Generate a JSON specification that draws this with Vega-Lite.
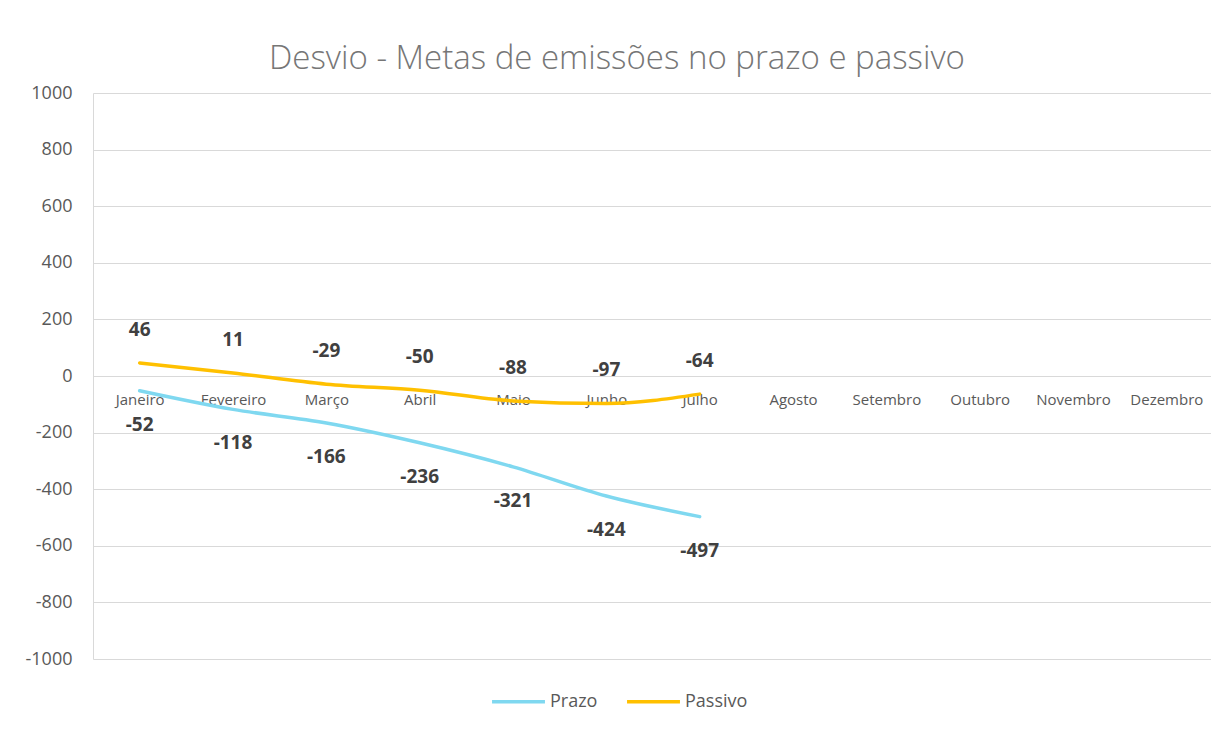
{
  "$schema": "https://vega.github.io/schema/vega-lite/v6.json",
  "autosize": "none",
  "width": 1120,
  "height": 566,
  "padding": {"left": 93, "top": 93, "right": 0, "bottom": 73},
  "background": "white",
  "title": {
    "text": "Desvio - Metas de emissões no prazo e passivo",
    "font": "Open Sans",
    "fontSize": 33,
    "fontWeight": 300,
    "color": "#767676",
    "anchor": "middle",
    "dx": -36,
    "offset": 8
  },
  "config": {
    "view": {"stroke": null},
    "font": "Open Sans"
  },
  "data": {
    "values": [
      {"mes": "Janeiro", "serie": "Prazo", "valor": -52},
      {"mes": "Fevereiro", "serie": "Prazo", "valor": -118},
      {"mes": "Março", "serie": "Prazo", "valor": -166},
      {"mes": "Abril", "serie": "Prazo", "valor": -236},
      {"mes": "Maio", "serie": "Prazo", "valor": -321},
      {"mes": "Junho", "serie": "Prazo", "valor": -424},
      {"mes": "Julho", "serie": "Prazo", "valor": -497},
      {"mes": "Janeiro", "serie": "Passivo", "valor": 46},
      {"mes": "Fevereiro", "serie": "Passivo", "valor": 11},
      {"mes": "Março", "serie": "Passivo", "valor": -29},
      {"mes": "Abril", "serie": "Passivo", "valor": -50},
      {"mes": "Maio", "serie": "Passivo", "valor": -88},
      {"mes": "Junho", "serie": "Passivo", "valor": -97},
      {"mes": "Julho", "serie": "Passivo", "valor": -64}
    ]
  },
  "encoding": {
    "x": {
      "field": "mes",
      "type": "nominal",
      "sort": null,
      "scale": {
        "domain": ["Janeiro", "Fevereiro", "Março", "Abril", "Maio", "Junho", "Julho", "Agosto", "Setembro", "Outubro", "Novembro", "Dezembro"],
        "paddingInner": 0,
        "paddingOuter": 0
      },
      "axis": {
        "title": null,
        "offset": -283,
        "domain": false,
        "ticks": false,
        "grid": false,
        "labelAngle": 0,
        "labelFontSize": 15,
        "labelColor": "#595959",
        "labelPadding": 16,
        "labelFont": "Open Sans"
      }
    },
    "y": {
      "field": "valor",
      "type": "quantitative",
      "scale": {"domain": [-1000, 1000], "nice": false, "zero": false},
      "axis": {
        "title": null,
        "values": [-1000, -800, -600, -400, -200, 0, 200, 400, 600, 800, 1000],
        "labelExpr": "datum.value + ''",
        "domain": true,
        "domainColor": "#d9d9d9",
        "ticks": false,
        "gridColor": "#d9d9d9",
        "labelFontSize": 18,
        "labelColor": "#595959",
        "labelPadding": 21,
        "labelFont": "Open Sans"
      }
    }
  },
  "layer": [
    {
      "mark": {"type": "line", "interpolate": "monotone", "strokeWidth": 3.5, "strokeCap": "round"},
      "encoding": {
        "color": {
          "field": "serie",
          "type": "nominal",
          "scale": {"domain": ["Prazo", "Passivo"], "range": ["#7fd8f0", "#ffc000"]},
          "legend": {
            "title": null,
            "orient": "none",
            "direction": "horizontal",
            "legendX": 397,
            "legendY": 580,
            "symbolType": "stroke",
            "symbolSize": 2800,
            "symbolStrokeWidth": 3.5,
            "labelFontSize": 18,
            "labelColor": "#595959",
            "labelOffset": 3,
            "columnPadding": 22,
            "labelFont": "Open Sans"
          }
        }
      }
    },
    {
      "transform": [{"filter": "datum.serie === 'Passivo'"}, {"calculate": "datum.valor + ''", "as": "rotulo"}],
      "mark": {"type": "text", "dy": -33, "fontSize": 19, "fontWeight": "bold", "color": "#404040", "font": "Open Sans"},
      "encoding": {"text": {"field": "rotulo", "type": "nominal"}}
    },
    {
      "transform": [{"filter": "datum.serie === 'Prazo'"}, {"calculate": "datum.valor + ''", "as": "rotulo"}],
      "mark": {"type": "text", "dy": 34, "fontSize": 19, "fontWeight": "bold", "color": "#404040", "font": "Open Sans"},
      "encoding": {"text": {"field": "rotulo", "type": "nominal"}}
    }
  ]
}
